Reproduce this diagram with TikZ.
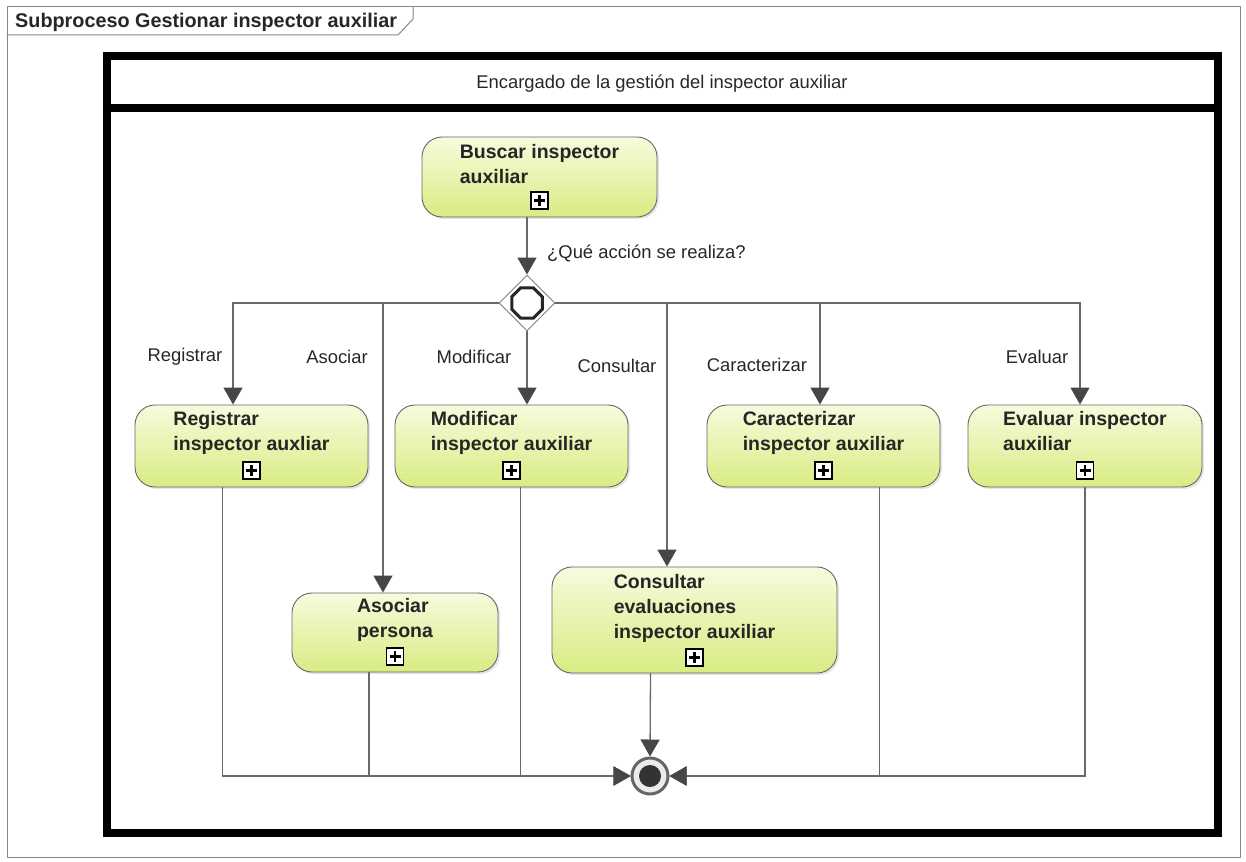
\documentclass[tikz,border=0pt]{standalone}
\usepackage{fontspec}
\setmainfont{Liberation Sans}
\usetikzlibrary{arrows.meta, shapes.geometric, shadows, calc}
\definecolor{taskTop}{RGB}{247,251,222}
\definecolor{taskBot}{RGB}{216,236,130}
\definecolor{lineCol}{RGB}{105,105,105}
\definecolor{tipCol}{RGB}{70,70,70}
\definecolor{frameCol}{RGB}{135,135,135}

\begin{document}
\begin{tikzpicture}[x=1pt, y=-1pt, line cap=round,
    task/.style={draw=black!60, line width=0.9pt, rounded corners=20pt, top color=taskTop, bottom color=taskBot,
        drop shadow={shadow xshift=2pt, shadow yshift=-2pt, opacity=0.2}, minimum width=233pt, minimum height=82pt, inner sep=0pt},
    tasktext/.style={font=\fontsize{19.5}{25}\selectfont\bfseries, align=left, inner sep=0pt, anchor=north, text=black!85},
    expandbox/.style={draw=black, line width=1.4pt, fill=white!0, minimum size=17pt, inner sep=0pt,
        path picture={\draw[line width=2.6pt, line cap=butt] ([xshift=-5.5pt]path picture bounding box.center) -- ([xshift=5.5pt]path picture bounding box.center)
        ([yshift=-5.5pt]path picture bounding box.center) -- ([yshift=5.5pt]path picture bounding box.center);}},
    lbl/.style={font=\fontsize{18.4}{22}\selectfont, text=black!85, inner sep=0pt},
    flow/.style={draw=lineCol, line width=1.3pt, -{Triangle[length=17pt, width=19pt, color=tipCol]}},
    gateway/.style={diamond, draw=black!50, fill=white, line width=0.9pt, minimum width=56pt, minimum height=56pt, inner sep=0pt}
    ]
    \useasboundingbox (0,0) rectangle (1246,861);
    %\draw [step=50, very thin, lightgray] (0,0) grid (1246,861);

    % frame and title tab
    \draw [frameCol, line width=1pt] (7,7) rectangle (1240,857);
    \draw [frameCol, line width=1pt] (7,35) -- (398,35) -- (413,19) -- (413,7);
    \node [anchor=base west, inner sep=0pt, font=\fontsize{19.8}{24}\selectfont\bfseries, text=black!85] (title) at (15,28) {Subproceso Gestionar inspector auxiliar};

    % pool
    \draw [line width=8pt] (107,56.5) rectangle (1218,833);
    \draw [line width=8pt] (107,108.5) -- (1218,108.5);
    \node [lbl] (poolhead) at (662,84) {Encargado de la gestión del inspector auxiliar};

    % tasks
    \node [task, minimum width=235pt, minimum height=80pt] (buscar) at (539.5,177) {};
    \node [tasktext] (buscar-t) at ([yshift=33pt]buscar.center) {Buscar inspector\\auxiliar};
    \node [expandbox] (buscar-p) at ([yshift=17pt]buscar.south) {};

    \node [task] (reg) at (251.5,446) {};
    \node [tasktext] (reg-t) at ([yshift=35pt]reg.center) {Registrar\\inspector auxliar};
    \node [expandbox] (reg-p) at ([yshift=17pt]reg.south) {};

    \node [task] (mod) at (511.5,446) {};
    \node [tasktext] (mod-t) at ([yshift=35pt]mod.center) {Modificar\\inspector auxiliar};
    \node [expandbox] (mod-p) at ([yshift=17pt]mod.south) {};

    \node [task] (car) at (823.5,446) {};
    \node [tasktext] (car-t) at ([yshift=35pt]car.center) {Caracterizar\\inspector auxiliar};
    \node [expandbox] (car-p) at ([yshift=17pt]car.south) {};

    \node [task, minimum width=234pt] (eva) at (1085,446) {};
    \node [tasktext] (eva-t) at ([yshift=35pt]eva.center) {Evaluar inspector\\auxiliar};
    \node [expandbox] (eva-p) at ([yshift=17pt]eva.south) {};

    \node [task, minimum width=206pt, minimum height=79pt] (aso) at (395,632.5) {};
    \node [tasktext] (aso-t) at ([yshift=34pt]aso.center) {Asociar\\persona};
    \node [expandbox] (aso-p) at ([yshift=16pt]aso.south) {};

    \node [task, minimum width=285pt, minimum height=106pt] (con) at (694.5,620) {};
    \node [tasktext] (con-t) at ([yshift=46pt]con.center) {Consultar\\evaluaciones\\inspector auxiliar};
    \node [expandbox] (con-p) at ([yshift=16pt]con.south) {};

    % gateway and end
    \node [gateway] (gw) at (527,303) {};
    \node [regular polygon, regular polygon sides=8, draw=black!85, line width=3pt, minimum size=33pt, inner sep=0pt] (gw-o) at (gw) {};
    \node [circle, draw=black!60, line width=3pt, fill=black!8, minimum size=36pt, inner sep=0pt] (end) at (650,776) {};
    \node [circle, fill=black!80, minimum size=22pt, inner sep=0pt] (end-i) at (end) {};

    % flows
    \draw [flow] (gw.north |- buscar.south) -- (gw.north);
    \node [lbl, anchor=west] (question) at (547,253) {¿Qué acción se realiza?};

    \draw [flow] (gw.west) -| ([xshift=-18.5pt]reg.north);
    \draw [flow] (gw.west) -| ([xshift=-12pt]aso.north);
    \draw [flow] (gw.south) -- (gw.south |- mod.north);
    \draw [flow] (gw.east) -| ([xshift=-27.5pt]con.north);
    \draw [flow] (gw.east) -| ([xshift=-3.5pt]car.north);
    \draw [flow] (gw.east) -| ([xshift=-5pt]eva.north);

    \node [lbl] (l-reg) at (185,357) {Registrar};
    \node [lbl] (l-aso) at (337,357) {Asociar};
    \node [lbl] (l-mod) at (474,357) {Modificar};
    \node [lbl] (l-con) at (617,366) {Consultar};
    \node [lbl] (l-car) at (757,365) {Caracterizar};
    \node [lbl] (l-eva) at (1037,357) {Evaluar};

    \draw [flow] ([xshift=-29pt]reg.south) |- (end.west);
    \draw [flow] ([xshift=-26pt]aso.south) |- (end.west);
    \draw [flow] ([xshift=9pt]mod.south) |- (end.west);
    \draw [flow] ([xshift=-44pt]con.south) -- (end.north);
    \draw [flow] ([xshift=56pt]car.south) |- (end.east);
    \draw [flow] (eva.south) |- (end.east);
\end{tikzpicture}
\end{document}
